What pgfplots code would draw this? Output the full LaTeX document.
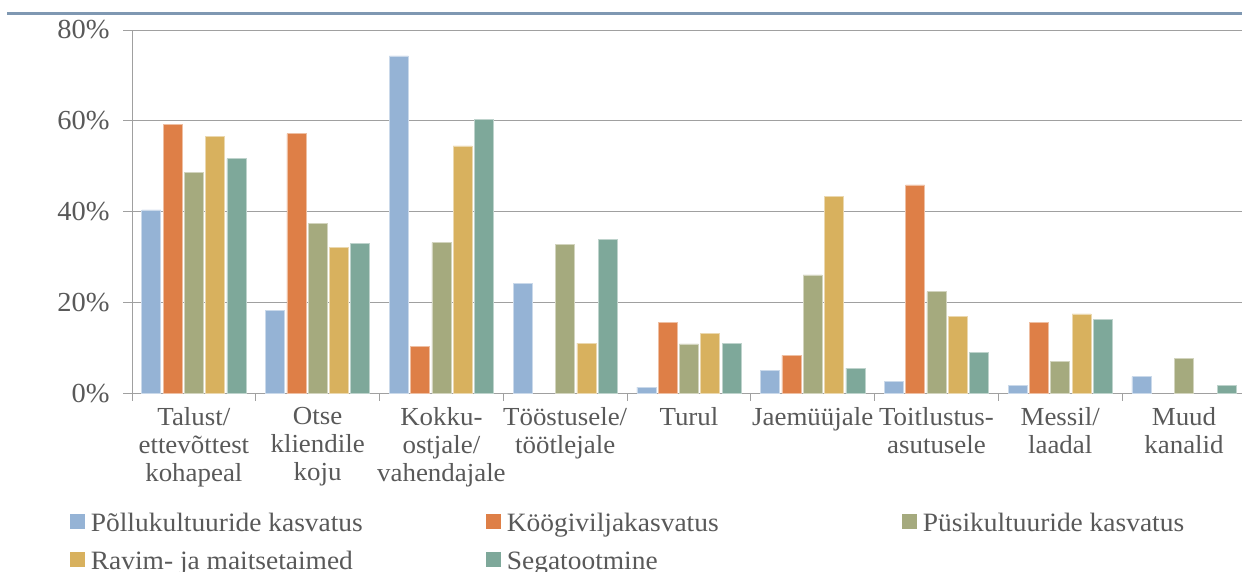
\documentclass[border=0pt]{standalone}
\usepackage{pgfplots}
\pgfplotsset{compat=1.18}
\usepackage{fontspec}
\setmainfont[FakeStretch=1.035]{Liberation Serif}
\definecolor{cBlue}{RGB}{149,179,213}
\definecolor{cOrange}{RGB}{222,127,71}
\definecolor{cOlive}{RGB}{165,170,126}
\definecolor{cGold}{RGB}{216,177,94}
\definecolor{cTeal}{RGB}{126,168,154}
\definecolor{txt}{RGB}{89,89,89}
\definecolor{gridc}{RGB}{160,160,160}
\definecolor{topline}{RGB}{127,152,178}
\pgfplotsset{
  myleg/.style={legend image code/.code={\fill[##1,draw=none] (0pt,-4.5pt) rectangle (15pt,10.5pt);}},
}
\begin{document}
\begin{tikzpicture}[x=1pt,y=1pt]
\useasboundingbox (0,-571) rectangle (1242,0);
\draw[topline, line width=2.4pt] (7,-13.5) -- (1242,-13.5);
\begin{axis}[
  at={(132pt,-393.5pt)}, anchor=south west,
  scale only axis, width=1114pt, height=363.5pt,
  xmin=-0.5, xmax=8.5, ymin=0, ymax=80,
  ybar=2.3pt, bar width=19pt,
  axis x line*=bottom, axis y line*=left,
  axis line style={draw=gridc, line width=1pt, -},
  ytick={0,20,40,60,80},
  yticklabel={\pgfmathprintnumber{\tick}\%},
  /pgf/number format/assume math mode=true,
  ymajorgrids, grid style={gridc, line width=1pt},
  xtick={0,...,8},
  xticklabels={{Talust/\\ettevõttest\\kohapeal},{Otse\\kliendile\\koju},{Kokku-\\ostjale/\\vahendajale},{Tööstusele/\\töötlejale},{Turul},{Jaemüüjale},{Toitlustus-\\asutusele},{Messil/\\laadal},{Muud\\kanalid}},
  major x tick style={draw=none},
  minor xtick={-0.5,0.5,...,8.5},
  tick align=outside,
  major tick length=9pt, minor tick length=7pt,
  tick style={gridc, line width=1pt},
  xticklabel style={font=\fontsize{26}{28}\selectfont, align=center, text=txt, anchor=north, yshift=-1.5pt},
  yticklabel style={font=\fontsize{27.5}{28}\selectfont, text=txt, xshift=-10pt},
  legend columns=3,
  legend cell align=left,
  legend style={at={(axis description cs:-0.05566,-0.3287)}, anchor=north west, draw=none, fill=none, inner sep=0pt,
    font=\fontsize{26.5}{28}\selectfont, text=txt,
    nodes={inner sep=0pt, text height=18pt, text depth=5pt, anchor=west},
    row sep=15.3pt, column sep=0pt},
]
\addplot[fill=cBlue, draw=cBlue!50!white, line width=0.6pt, myleg] coordinates {(0,40.4) (1,18.3) (2,74.3) (3,24.2) (4,1.4) (5,5.0) (6,2.6) (7,1.7) (8,3.7)};
\addlegendentry{\makebox[401pt][l]{\hspace{5.7pt}Põllukultuuride kasvatus}}
\addplot[fill=cOrange, draw=cOrange!50!white, line width=0.6pt, myleg] coordinates {(0,59.3) (1,57.2) (2,10.4) (4,15.6) (5,8.4) (6,45.9) (7,15.6)};
\addlegendentry{\makebox[401pt][l]{\hspace{5.7pt}Köögiviljakasvatus}}
\addplot[fill=cOlive, draw=cOlive!50!white, line width=0.6pt, myleg] coordinates {(0,48.7) (1,37.5) (2,33.2) (3,32.9) (4,10.9) (5,26.1) (6,22.4) (7,7.1) (8,7.7)};
\addlegendentry{\hspace{5.7pt}Püsikultuuride kasvatus}
\addplot[fill=cGold, draw=cGold!50!white, line width=0.6pt, myleg] coordinates {(0,56.6) (1,32.2) (2,54.5) (3,11.1) (4,13.3) (5,43.4) (6,17.0) (7,17.5)};
\addlegendentry{\makebox[401pt][l]{\hspace{5.7pt}Ravim- ja maitsetaimed}}
\addplot[fill=cTeal, draw=cTeal!50!white, line width=0.6pt, myleg] coordinates {(0,51.7) (1,33.1) (2,60.4) (3,33.9) (4,11.1) (5,5.6) (6,9.1) (7,16.3) (8,1.7)};
\addlegendentry{\makebox[401pt][l]{\hspace{5.7pt}Segatootmine}}
\end{axis}
\end{tikzpicture}
\end{document}
